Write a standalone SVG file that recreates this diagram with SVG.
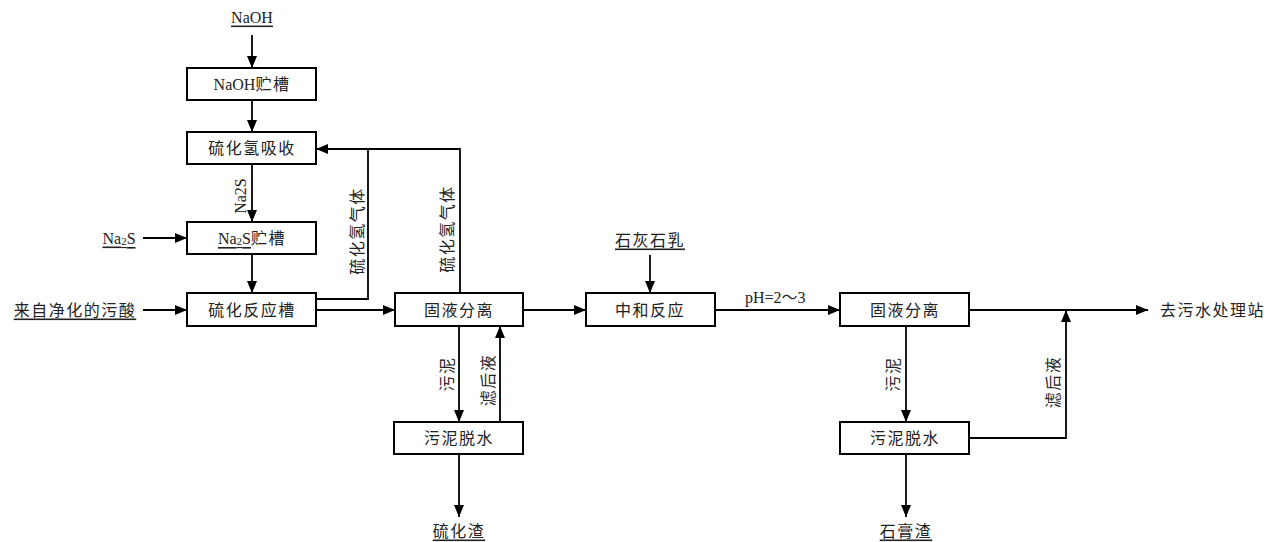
<svg xmlns="http://www.w3.org/2000/svg" width="1268" height="542" viewBox="0 0 1268 542">
<defs>
<marker id="ah" viewBox="0 0 12 10" refX="12" refY="5" markerWidth="12" markerHeight="10" markerUnits="userSpaceOnUse" orient="auto">
<path d="M0,0 L12,5 L0,10 z" fill="#000"/>
</marker>
<style>
.box{fill:#fff;stroke:#000;stroke-width:2}
.t{font-family:"Liberation Serif","Noto Sans CJK SC",serif;font-size:16px;fill:#222;letter-spacing:1.5px}
.l{letter-spacing:0}
.c{text-anchor:middle;dominant-baseline:central}
.u{text-decoration:underline}
.ln{fill:none;stroke:#000;stroke-width:1.8}
.ar{fill:none;stroke:#000;stroke-width:1.8;marker-end:url(#ah)}
</style>
</defs>
<rect width="1268" height="542" fill="#fff"/>

<g id="connectors">
<path class="ar" d="M252,35 V68"/>
<path class="ar" d="M252,100 V132"/>
<path class="ar" d="M252,164 V222"/>
<path class="ar" d="M143,238 H187"/>
<path class="ar" d="M252,254 V293"/>
<path class="ar" d="M143,310 H187"/>
<path class="ar" d="M316,310 H395"/>
<path class="ln" d="M316,299 H368 V149"/>
<path class="ar" d="M460,293 V149 H316"/>
<path class="ar" d="M523,310 H586"/>
<path class="ar" d="M650,255 V293"/>
<path class="ar" d="M715,310 H840"/>
<path class="ar" d="M969,310 H1148"/>
<path class="ar" d="M459,326 V422"/>
<path class="ar" d="M500,422 V326"/>
<path class="ar" d="M459,454 V517"/>
<path class="ar" d="M906,326 V422"/>
<path class="ar" d="M969,438 H1066 V310"/>
<path class="ar" d="M906,454 V517"/>
</g>

<g id="labels">
<text class="t c u l" x="252" y="17">NaOH</text>
<text class="t c u l" x="119" y="238">Na<tspan font-size="11" dy="3">2</tspan><tspan dy="-3">S</tspan></text>
<text class="t c u" x="75" y="310">来自净化的污酸</text>
<text class="t c u" x="650" y="240">石灰石乳</text>
<text class="t l" x="745" y="303">pH=2～3</text>
<text class="t" x="1160" y="316">去污水处理站</text>
<text class="t c u" x="459" y="531">硫化渣</text>
<text class="t c u" x="906" y="531">石膏渣</text>
<text class="t c l" transform="translate(240,196) rotate(-90)">Na2S</text>
<text class="t c" transform="translate(357,231) rotate(-90)">硫化氢气体</text>
<text class="t c" transform="translate(447,229) rotate(-90)">硫化氢气体</text>
<text class="t c" transform="translate(447,374) rotate(-90)">污泥</text>
<text class="t c" transform="translate(488,380) rotate(-90)">滤后液</text>
<text class="t c" transform="translate(893,374) rotate(-90)">污泥</text>
<text class="t c" transform="translate(1053,382) rotate(-90)">滤后液</text>
</g>

<g id="n-naoh-tank"><rect class="box" x="187" y="68" width="129" height="32"/><text class="t c" x="252" y="84"><tspan letter-spacing="0">NaOH</tspan>贮槽</text></g>
<g id="n-h2s-abs"><rect class="box" x="187" y="132" width="129" height="32"/><text class="t c" x="252" y="148">硫化氢吸收</text></g>
<g id="n-na2s-tank"><rect class="box" x="187" y="222" width="129" height="32"/><text class="t c" x="252" y="238"><tspan text-decoration="underline" letter-spacing="0">Na<tspan font-size="11" dy="3">2</tspan><tspan dy="-3">S</tspan></tspan>贮槽</text></g>
<g id="n-sulf-react"><rect class="box" x="187" y="293" width="129" height="33"/><text class="t c" x="252" y="310">硫化反应槽</text></g>
<g id="n-sep1"><rect class="box" x="395" y="293" width="128" height="33"/><text class="t c" x="459" y="310">固液分离</text></g>
<g id="n-dewater1"><rect class="box" x="394" y="422" width="129" height="32"/><text class="t c" x="459" y="438">污泥脱水</text></g>
<g id="n-neutral"><rect class="box" x="586" y="293" width="129" height="33"/><text class="t c" x="650" y="310">中和反应</text></g>
<g id="n-sep2"><rect class="box" x="840" y="293" width="129" height="33"/><text class="t c" x="905" y="310">固液分离</text></g>
<g id="n-dewater2"><rect class="box" x="840" y="422" width="129" height="32"/><text class="t c" x="905" y="438">污泥脱水</text></g>
</svg>
